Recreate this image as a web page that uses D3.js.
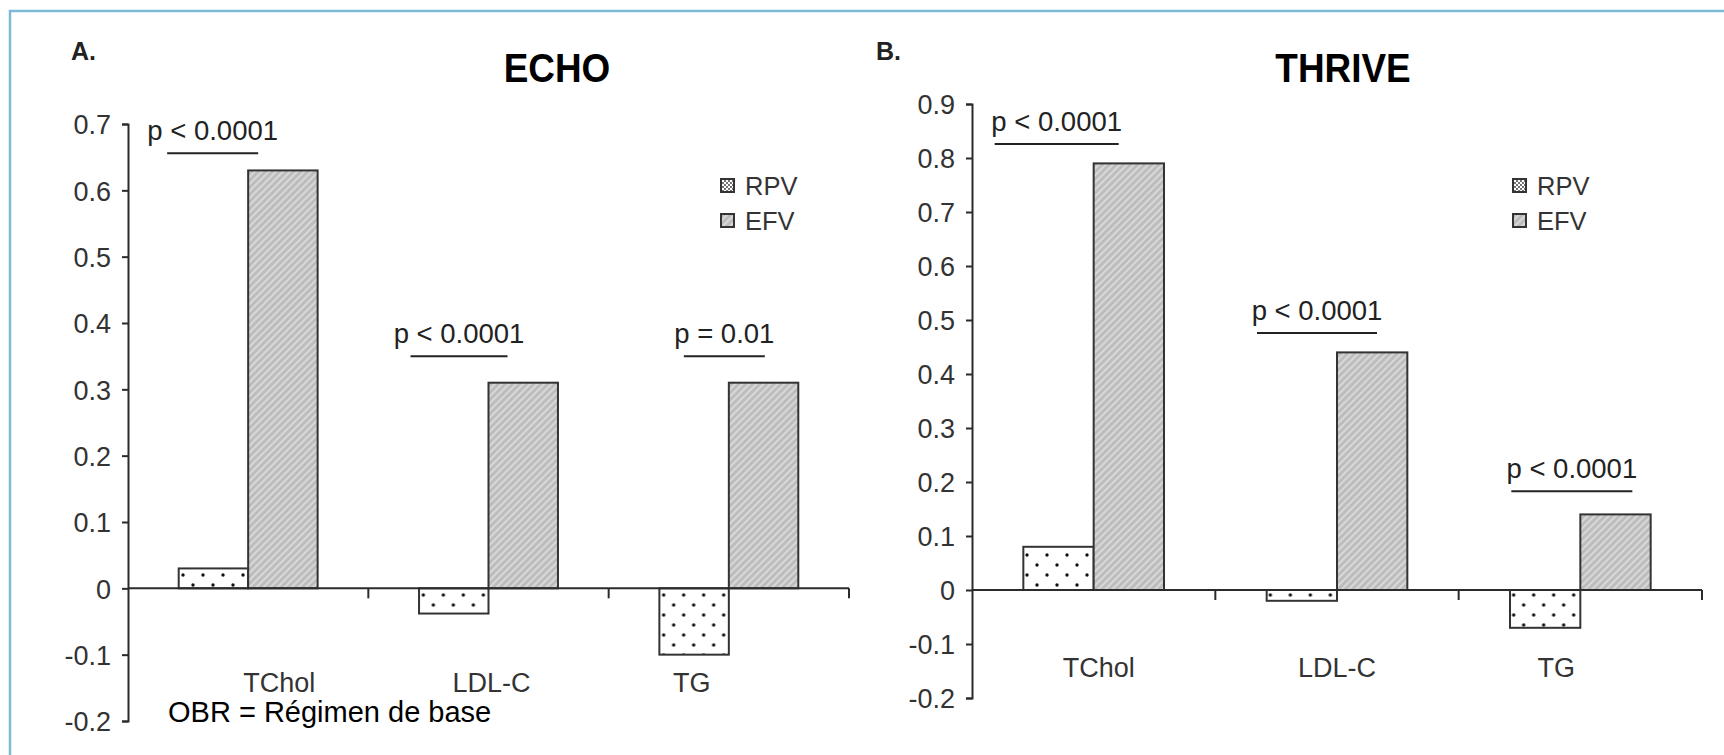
<!DOCTYPE html>
<html>
<head>
<meta charset="utf-8">
<script src="https://cdn.jsdelivr.net/npm/d3@7"></script>
<style>
  html, body { margin: 0; padding: 0; background: #fff; }
  svg { display: block; font-family: "Liberation Sans", Arial, Helvetica, sans-serif; }
</style>
</head>
<body>
<svg id="chart" width="1724" height="755"></svg>
<script>
// ---- data ----
const categories = ["TChol", "LDL-C", "TG"];
const seriesNames = ["RPV", "EFV"];

const echoRPV = [0.03, -0.038, -0.1];
const echoEFV = [0.63, 0.31, 0.31];
const echoTicks = [-0.2, -0.1, 0, 0.1, 0.2, 0.3, 0.4, 0.5, 0.6, 0.7];
const echoPLabels = ["p < 0.0001", "p < 0.0001", "p = 0.01"];
const echoPLevels = [0.656, 0.35, 0.35];

const thriveRPV = [0.08, -0.02, -0.07];
const thriveEFV = [0.79, 0.44, 0.14];
const thriveTicks = [-0.2, -0.1, 0, 0.1, 0.2, 0.3, 0.4, 0.5, 0.6, 0.7, 0.8, 0.9];
const thrivePLabels = ["p < 0.0001", "p < 0.0001", "p < 0.0001"];
const thrivePLevels = [0.826, 0.476, 0.183];

const footnote = "OBR = Régimen de base";

// ---- layout ----
const panels = [
  {
    letter: "A.", letterX: 71, title: "ECHO", titleX: 557,
    rpv: echoRPV, efv: echoEFV, ticks: echoTicks,
    pLabels: echoPLabels, pLevels: echoPLevels,
    xRange: [128, 849], yDomain: [-0.2, 0.7], yRange: [721, 124],
    lineSpan: [[-81, 10], [-78, 19], [-45, 36]],
    catShift: [31, 3, -37], catY: 692,
    legendX: 721
  },
  {
    letter: "B.", letterX: 876, title: "THRIVE", titleX: 1343,
    rpv: thriveRPV, efv: thriveEFV, ticks: thriveTicks,
    pLabels: thrivePLabels, pLevels: thrivePLevels,
    xRange: [972, 1702], yDomain: [-0.2, 0.9], yRange: [698, 104],
    lineSpan: [[-99, 25], [-80, 40], [-69, 52]],
    catShift: [5, 0, -24], catY: 677,
    legendX: 1513
  }
];

const svg = d3.select("#chart");
const ink = "#2b2b2b";

// ---- fill patterns ----
const defs = svg.append("defs");
const dots = defs.append("pattern")
  .attr("id", "dots").attr("patternUnits", "userSpaceOnUse")
  .attr("width", 20).attr("height", 20);
dots.append("rect").attr("width", 20).attr("height", 20).attr("fill", "#fff");
dots.append("circle").attr("cx", 5).attr("cy", 5).attr("r", 1.7).attr("fill", "#111");
dots.append("circle").attr("cx", 15).attr("cy", 15).attr("r", 1.7).attr("fill", "#111");

const dotsSmall = defs.append("pattern")
  .attr("id", "dotsSmall").attr("patternUnits", "userSpaceOnUse")
  .attr("width", 4).attr("height", 4);
dotsSmall.append("rect").attr("width", 4).attr("height", 4).attr("fill", "#fff");
dotsSmall.append("circle").attr("cx", 1).attr("cy", 1).attr("r", 0.9).attr("fill", "#333");
dotsSmall.append("circle").attr("cx", 3).attr("cy", 3).attr("r", 0.9).attr("fill", "#333");

const hatch = defs.append("pattern")
  .attr("id", "hatch").attr("patternUnits", "userSpaceOnUse")
  .attr("width", 5).attr("height", 5)
  .attr("patternTransform", "rotate(45)");
hatch.append("rect").attr("width", 5).attr("height", 5).attr("fill", "#bdbdbd");
hatch.append("line").attr("x1", 1).attr("y1", 0).attr("x2", 1).attr("y2", 5)
  .attr("stroke", "#e4e4e4").attr("stroke-width", 1.4);

const fills = { RPV: "url(#dots)", EFV: "url(#hatch)" };
const swatchFills = { RPV: "url(#dotsSmall)", EFV: "url(#hatch)" };

// ---- frame ----
svg.append("path")
  .attr("d", "M10,760 V11 H1730")
  .attr("fill", "none").attr("stroke", "#7cbad5").attr("stroke-width", 2.5);

// tick labels use a plain hyphen for negatives
const tickText = d => String(+d.toFixed(1));

panels.forEach(p => {
  const g = svg.append("g");
  const x0 = d3.scaleBand().domain(categories).range(p.xRange);
  const x1 = d3.scaleBand().domain(seriesNames).range([0, x0.bandwidth()]).paddingOuter(0.73);
  const y = d3.scaleLinear().domain(p.yDomain).range(p.yRange);

  const rows = categories.map((c, i) => ({ cat: c, values: [p.rpv[i], p.efv[i]] }));

  // letter and title
  g.append("text").attr("x", p.letterX).attr("y", 60)
    .attr("font-size", 25).attr("font-weight", "bold").attr("fill", "#222")
    .text(p.letter);
  g.append("text")
    .attr("transform", `translate(${p.titleX},82) scale(0.9,1)`)
    .attr("text-anchor", "middle")
    .attr("font-size", 41).attr("font-weight", "bold").attr("fill", "#000")
    .text(p.title);

  // bars
  const grp = g.selectAll("g.cat").data(rows).join("g")
    .attr("class", "cat")
    .attr("transform", d => `translate(${x0(d.cat)},0)`);
  grp.selectAll("rect").data(d => d.values.map((v, k) => ({ key: seriesNames[k], v })))
    .join("rect")
    .attr("x", d => x1(d.key))
    .attr("width", x1.bandwidth())
    .attr("y", d => y(Math.max(0, d.v)))
    .attr("height", d => Math.abs(y(d.v) - y(0)))
    .attr("fill", d => fills[d.key])
    .attr("stroke", "#333").attr("stroke-width", 2);

  // y axis
  const yAxis = d3.axisLeft(y).tickValues(p.ticks).tickSize(6).tickSizeOuter(6)
    .tickFormat(tickText);
  const ya = g.append("g").attr("transform", `translate(${p.xRange[0]},0)`).call(yAxis);
  ya.select(".domain").attr("stroke", ink).attr("stroke-width", 2);
  ya.selectAll(".tick line").attr("stroke", ink).attr("stroke-width", 2);
  ya.selectAll(".tick text")
    .attr("x", -17).attr("dy", "0.36em")
    .attr("font-size", 27).attr("fill", "#333")
    .attr("font-family", "'Liberation Sans', Arial, Helvetica, sans-serif");

  // x axis at zero with category separators
  g.append("line")
    .attr("x1", p.xRange[0]).attr("x2", p.xRange[1])
    .attr("y1", y(0)).attr("y2", y(0))
    .attr("stroke", ink).attr("stroke-width", 2);
  g.selectAll("line.sep").data(categories).join("line")
    .attr("class", "sep")
    .attr("x1", d => x0(d) + x0.bandwidth()).attr("x2", d => x0(d) + x0.bandwidth())
    .attr("y1", y(0)).attr("y2", y(0) + 10)
    .attr("stroke", ink).attr("stroke-width", 2);

  // category labels
  g.selectAll("text.cat").data(categories).join("text")
    .attr("class", "cat")
    .attr("x", (d, i) => x0(d) + x0.bandwidth() / 2 + p.catShift[i])
    .attr("y", p.catY)
    .attr("text-anchor", "middle")
    .attr("font-size", 27).attr("fill", "#333")
    .text(d => d);

  // significance brackets
  categories.forEach((c, i) => {
    const cx = x0(c) + x0.bandwidth() / 2;
    const ly = y(p.pLevels[i]);
    const xa = cx + p.lineSpan[i][0], xb = cx + p.lineSpan[i][1];
    g.append("line").attr("x1", xa).attr("x2", xb).attr("y1", ly).attr("y2", ly)
      .attr("stroke", "#222").attr("stroke-width", 2);
    g.append("text").attr("x", (xa + xb) / 2).attr("y", ly - 13)
      .attr("text-anchor", "middle").attr("font-size", 27.5).attr("fill", "#222")
      .text(p.pLabels[i]);
  });

  // legend
  seriesNames.forEach((s, k) => {
    const ly = 179 + k * 35;
    g.append("rect").attr("x", p.legendX).attr("y", ly).attr("width", 13).attr("height", 13)
      .attr("fill", swatchFills[s]).attr("stroke", "#333").attr("stroke-width", 2);
    g.append("text").attr("x", p.legendX + 24).attr("y", ly + 6.5).attr("dy", "0.36em")
      .attr("font-size", 25.5).attr("fill", "#333").text(s);
  });
});

// footnote under panel A
svg.append("text").attr("x", 168).attr("y", 722)
  .attr("font-size", 29).attr("fill", "#000")
  .text(footnote);
</script>
</body>
</html>
